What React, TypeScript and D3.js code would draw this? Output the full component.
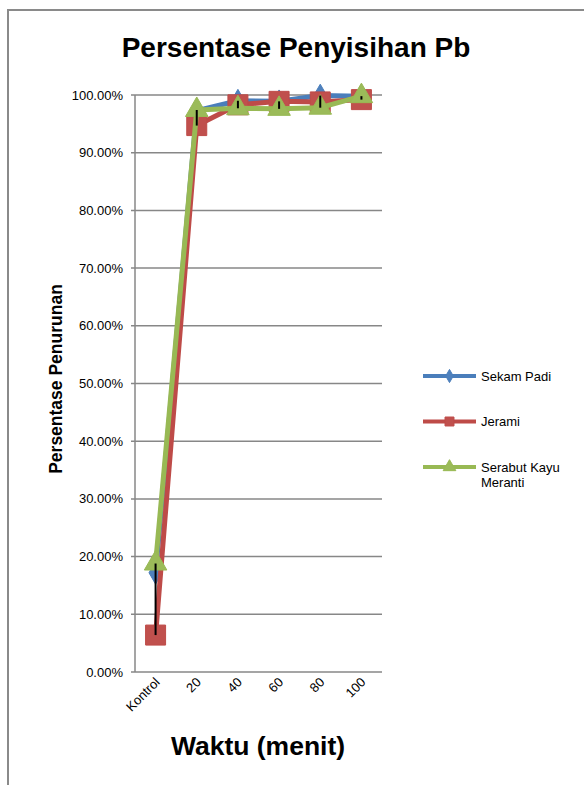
import React from "react";
import * as d3 from "d3";

const categories = ["Kontrol", "20", "40", "60", "80", "100"];
const sekamPadi = [0.172, 0.973, 0.99, 0.989, 0.999, 0.998];
const jerami = [0.064, 0.947, 0.983, 0.989, 0.988, 0.992];
const serabut = [0.188, 0.974, 0.977, 0.976, 0.978, 0.998];
const yTicks = [0, 0.1, 0.2, 0.3, 0.4, 0.5, 0.6, 0.7, 0.8, 0.9, 1.0];

const seriesList = [
  { name: "Sekam Padi", values: sekamPadi, line: "#4A7EBB", fill: "#4F81BD", marker: "diamond" },
  { name: "Jerami", values: jerami, line: "#BE4B48", fill: "#C0504D", marker: "square" },
  { name: "Serabut Kayu|Meranti", values: serabut, line: "#98B954", fill: "#9BBB59", marker: "triangle" },
];

const W = 584;
const H = 785;
const plot = { left: 135, right: 382, top: 95, bottom: 672 };

function markerPath(type: string, size: number) {
  const sym =
    type === "diamond" ? d3.symbolDiamond : type === "square" ? d3.symbolSquare : d3.symbolTriangle;
  return d3.symbol().type(sym).size(size)() as string;
}

export default function App() {
  const x = d3
    .scaleBand<string>()
    .domain(categories)
    .range([plot.left, plot.right])
    .paddingInner(0)
    .paddingOuter(0);
  const y = d3.scaleLinear().domain([0, 1]).range([plot.bottom, plot.top]);
  const cx = (c: string) => (x(c) as number) + x.bandwidth() / 2;
  const line = d3
    .line<number>()
    .x((_, i) => cx(categories[i]))
    .y((d) => y(d));

  const hiLo = categories.map((c, i) => {
    const vals = seriesList.map((s) => s.values[i]);
    return { c, hi: d3.max(vals) as number, lo: d3.min(vals) as number };
  });

  const font = "Arial, 'Liberation Sans', sans-serif";

  return (
    <svg
      width={W}
      height={H}
      style={{ position: "absolute", left: 0, top: 0, background: "#fff" }}
      fontFamily={font}
    >
      <rect x={8} y={10} width={W} height={H} fill="#fff" stroke="#8a8a8a" strokeWidth={2} />
      <text x={296} y={57} textAnchor="middle" fontSize={28} fontWeight="bold" fill="#000">
        Persentase Penyisihan Pb
      </text>

      {/* gridlines */}
      {yTicks.map((t) => (
        <g key={t}>
          <line x1={plot.left - 4} x2={plot.right} y1={y(t)} y2={y(t)} stroke="#878787" strokeWidth={1.5} />
          <text x={123} y={y(t) + 4.5} textAnchor="end" fontSize={13} fill="#000">
            {d3.format(".2%")(t)}
          </text>
        </g>
      ))}
      <line x1={plot.left} x2={plot.left} y1={plot.top} y2={plot.bottom} stroke="#878787" strokeWidth={1.5} />

      {/* x labels */}
      {categories.map((c) => (
        <text
          key={c}
          transform={`translate(${cx(c) + 5},${plot.bottom + 11}) rotate(-45)`}
          textAnchor="end"
          fontSize={13}
          fill="#000"
        >
          {c}
        </text>
      ))}

      {/* series */}
      {seriesList.map((s) => (
        <g key={s.name}>
          <path d={line(s.values) as string} fill="none" stroke={s.line} strokeWidth={5} strokeLinejoin="round" />
          {s.values.map((v, i) => (
            <path
              key={i}
              d={markerPath(s.marker, s.marker === "square" ? 400 : s.marker === "triangle" ? 220 : 150)}
              transform={`translate(${cx(categories[i])},${y(v)})`}
              fill={s.fill}
              stroke={s.line}
              strokeWidth={1}
            />
          ))}
        </g>
      ))}

      {/* high-low lines */}
      {hiLo.map((h) => (
        <line key={h.c} x1={cx(h.c)} x2={cx(h.c)} y1={y(h.hi)} y2={y(h.lo)} stroke="#000" strokeWidth={2} />
      ))}

      {/* y title */}
      <text
        transform={`translate(62,379) rotate(-90)`}
        textAnchor="middle"
        fontSize={17.5}
        fontWeight="bold"
        fill="#000"
      >
        Persentase Penurunan
      </text>

      {/* x title */}
      <text x={258} y={755} textAnchor="middle" fontSize={26.5} fontWeight="bold" fill="#000">
        Waktu (menit)
      </text>

      {/* legend */}
      {seriesList.map((s, i) => {
        const ly = 376 + i * 45.5;
        const lines = s.name.split("|");
        return (
          <g key={s.name}>
            <line x1={423} x2={476} y1={ly} y2={ly} stroke={s.line} strokeWidth={4} />
            <path
              d={markerPath(s.marker, s.marker === "square" ? 80 : s.marker === "triangle" ? 70 : 50)}
              transform={`translate(449.5,${ly})`}
              fill={s.fill}
              stroke={s.line}
            />
            {lines.map((t, j) => (
              <text key={j} x={481} y={ly + 4.5 + j * 15} fontSize={13} fill="#000">
                {t}
              </text>
            ))}
          </g>
        );
      })}
    </svg>
  );
}
